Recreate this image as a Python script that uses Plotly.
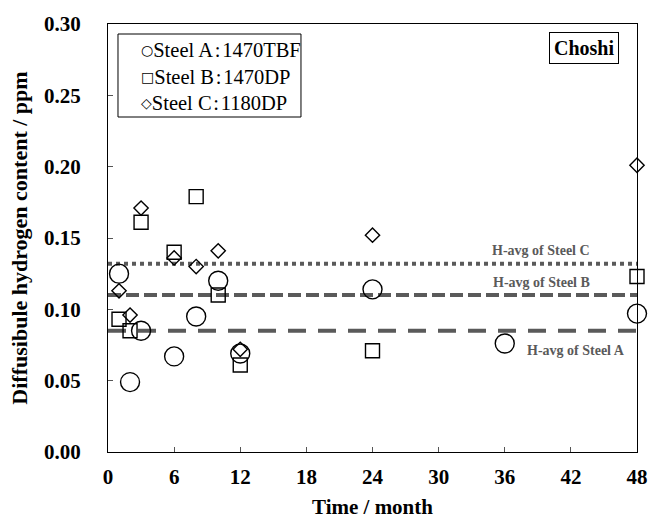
import plotly.graph_objects as go

# ---- data ----
months_a = [1, 2, 3, 6, 8, 10, 12, 24, 36, 48]
h_a = [0.125, 0.049, 0.085, 0.067, 0.095, 0.120, 0.069, 0.114, 0.076, 0.097]

months_b = [1, 2, 3, 6, 8, 10, 12, 24, 48]
h_b = [0.093, 0.085, 0.161, 0.140, 0.179, 0.110, 0.061, 0.071, 0.123]

months_c = [1, 2, 3, 6, 8, 10, 12, 24, 48]
h_c = [0.113, 0.096, 0.171, 0.136, 0.130, 0.141, 0.072, 0.152, 0.201]

series_names = ["Steel A\u200a:\u200a1470TBF", "Steel B\u200a:\u200a1470DP", "Steel C\u200a:\u200a1180DP"]
legend_symbols = ["○", "□", "◇"]

avg_labels = ["H-avg of Steel A", "H-avg of Steel B", "H-avg of Steel C"]
h_avg = [0.085, 0.110, 0.132]
avg_span = [0, 48]

x_ticks = [0, 6, 12, 18, 24, 30, 36, 42, 48]
y_ticks = [0.00, 0.05, 0.10, 0.15, 0.20, 0.25, 0.30]

FONT = "Liberation Serif, Times New Roman, serif"
GRAY = "#5a5a5a"

fig = go.Figure()

# average lines
dashes = ["18px,12px", "13px,5px", "4px,4px"]
for yv, d in zip(h_avg, dashes):
    fig.add_trace(go.Scatter(
        x=avg_span, y=[yv, yv], mode="lines",
        line=dict(color=GRAY, width=4, dash=d),
        showlegend=False, hoverinfo="skip", cliponaxis=False))

# markers
specs = [
    (months_a, h_a, "circle-open", 19),
    (months_b, h_b, "square-open", 14),
    (months_c, h_c, "diamond-open", 11),
]
for (xs, ys, sym, sz), name in zip(specs, series_names):
    fig.add_trace(go.Scatter(
        x=xs, y=ys, mode="markers", name=name,
        marker=dict(symbol=sym, size=sz, color="black",
                    line=dict(color="black", width=1.4)),
        cliponaxis=False, showlegend=False))

# average labels
label_pos = [(42.5, -20), (39.3, 13), (39.3, 13)]
for lab, yv, (xp, ys) in zip(avg_labels, h_avg, label_pos):
    fig.add_annotation(x=xp, y=yv, xref="x", yref="y", text=lab,
                       showarrow=False, yshift=ys,
                       font=dict(family=FONT, size=14, color=GRAY, weight="bold"))

# legend box + text
legend_text = "<br>".join(
    f'<span style="font-family:DejaVu Sans;font-size:14px;baseline-shift:2px">{s}</span>{n}'
    for s, n in zip(legend_symbols, series_names))
fig.add_shape(type="rect", xref="paper", yref="paper",
              x0=0.0189, x1=0.3648, y0=0.7827, y1=0.9766,
              line=dict(color="black", width=1), fillcolor="white")
fig.add_annotation(x=0.0586, y=0.877, xref="paper", yref="paper",
                   xanchor="left", yanchor="middle", align="left",
                   text=legend_text, showarrow=False,
                   font=dict(family=FONT, size=20.5, color="black"))

# location box
fig.add_annotation(x=0.90, y=0.945, xref="paper", yref="paper",
                   xanchor="center", yanchor="middle",
                   text="Choshi", showarrow=False,
                   bordercolor="black", borderwidth=1, borderpad=4,
                   font=dict(family=FONT, size=20, color="black", weight="bold"))

axis_common = dict(
    showgrid=False, zeroline=False, showline=True, linecolor="black",
    linewidth=1.2, mirror=True, ticks="inside", ticklen=5,
    tickcolor="#555555", tickwidth=1, automargin=False,
    tickfont=dict(family=FONT, size=21, color="black", weight="bold"),
)

fig.update_xaxes(range=[0, 48], tickvals=x_ticks, ticklabelstandoff=6,
                 title=dict(text="Time / month", standoff=12,
                            font=dict(family=FONT, size=21, color="black", weight="bold")),
                 **axis_common)
fig.update_yaxes(range=[0, 0.30], tickvals=y_ticks, tickformat=".2f",
                 ticklabelstandoff=22,
                 title=dict(text="Diffusibule hydrogen content / ppm", standoff=10,
                            font=dict(family=FONT, size=22, color="black", weight="bold")),
                 **axis_common)

fig.update_layout(
    width=649, height=519,
    margin=dict(l=108, r=12, t=24, b=67),
    paper_bgcolor="white", plot_bgcolor="white",
    showlegend=False,
    font=dict(family=FONT, color="black"),
)

fig.write_html("out.html")
